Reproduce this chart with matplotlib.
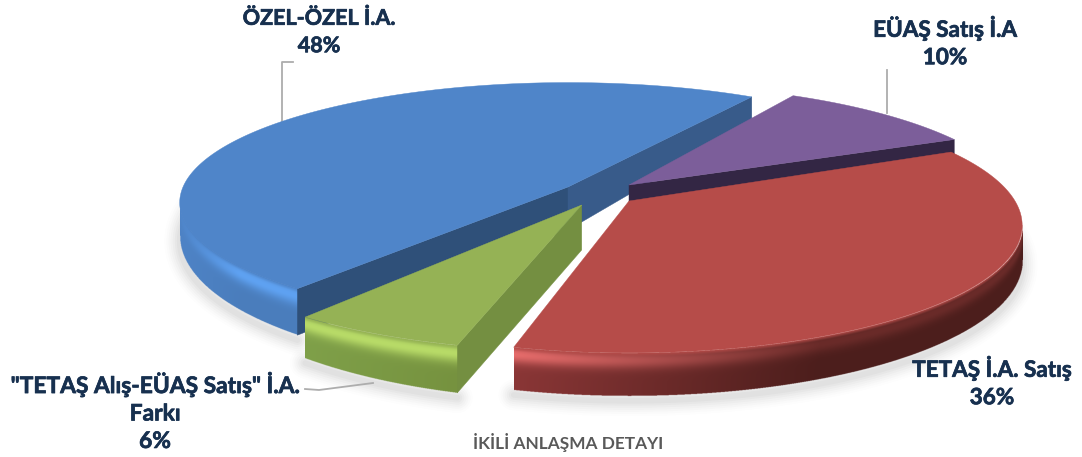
import numpy as np
import matplotlib
matplotlib.use("Agg")
import matplotlib.pyplot as plt
import matplotlib.patheffects as pe
from matplotlib.colors import to_rgb
from matplotlib.patches import Polygon

categories = ['EÜAŞ Satış İ.A', 'TETAŞ İ.A. Satış', '"TETAŞ Alış-EÜAŞ Satış" İ.A.\nFarkı', 'ÖZEL-ÖZEL İ.A.']
values = [10, 36, 6, 48]
title = 'İKİLİ ANLAŞMA DETAYI'

# exploded-slice geometry and styling (pixels)
geom = {
    0: dict(c=(629, 185), a=385, b=121, k=.20, rot=0, h0=33, h1=9, hap=45, sides=(-1,)),
    1: dict(c=(629, 201), a=386, b=123, k=.19, rot=1.5, h0=33, h1=10, hap=45, sides=()),
    2: dict(c=(581.7, 205), a=390, b=117, k=.20, rot=.7, h0=8, h1=41, hap=45, sides=(0,)),
    3: dict(c=(568, 187), a=385, b=118, k=.13, rot=-2, h0=31, h1=20, hap=43, sides=(0, -1)),
}
style = {
    0: dict(top='#7C5E9A', wall=('#332644', '#332644'), hl=('#332644', '#332644'), side='#332644', span=1),
    1: dict(top='#B64C49', wall=('#8A3636', '#4C1E1C'), hl=('#E66C6B', '#6A2B29'), side='#4A1D1B', span=.6),
    2: dict(top='#95B255', wall=('#7FA049', '#76923F'), hl=('#B8DB68', '#B8DB68'), side='#748F41', span=1),
    3: dict(top='#4F85C9', wall=('#4E83C6', '#4A7DBC'), hl=('#4F85C9', '#5FA2F2'), side=None, span=.55),
}
blue_sides = {0: '#2F5079', -1: '#385B8A'}
draw_order = [3, 0, 1, 2]
label_pos = {0: (945, 42), 1: (992, 382), 2: (155, 412), 3: (319, 32)}
label_size = {0: 16.2, 1: 16.2, 2: 16.4, 3: 15.5}
leaders = {
    0: ([887, 887], [70, 113]),
    1: ([], []),
    2: ([305, 319, 373], [389, 390, 383]),
    3: ([293, 282, 282], [62, 62, 121]),
}
TEXT = '#17304F'

plt.rcParams['font.family'] = ['Lato', 'DejaVu Sans']
fig = plt.figure(figsize=(10.82, 4.57), dpi=100)
ax = fig.add_axes([0, 0, 1, 1])
ax.axis('off')


def project(g, th):
    th = np.radians(th)
    u, v = np.cos(th), np.sin(th)
    s = 1 / (1 + g['k'] * v)
    return g['c'][0] + g['a'] * u * s, g['c'][1] - g['b'] * v * s, v


def rgb(c):
    return np.array(to_rgb(c))


# slice angles from the data, clockwise from the start angle
start = 60.0
edges = start - np.cumsum([0] + [v * 3.6 for v in values])
arcs = {}
for i, g in geom.items():
    th = np.linspace(edges[i] + g['rot'], edges[i + 1] + g['rot'], 400)
    x, y, v = project(g, th)
    arcs[i] = (x, y, v, np.maximum(g['h0'] - g['h1'] * v, 24))

# soft drop shadow
for lw, al in zip(np.arange(22, 1, -3), [.012, .015, .02, .025, .03, .035, .04, .04]):
    for i in (3, 1, 2):
        x, y, v, h = arcs[i]
        keep = v < .25
        ax.plot(x[keep], (y + h)[keep] + 5, color='#555555', lw=lw, alpha=al,
                solid_capstyle='round', zorder=1)


def draw_rim(i, z):
    """Curved outer wall, shaded per pixel along and down the rim."""
    st = style[i]
    x, y, v, h = arcs[i]
    front = v < .1
    xs, ys, hs = x[front], y[front], h[front]
    # keep the part that runs monotonically in x
    if i == 3:
        cut = np.argmin(xs)
        xs, ys, hs = xs[:cut + 1], ys[:cut + 1], hs[:cut + 1]
    if i == 1:
        cut = np.argmax(xs)
        xs, ys, hs = xs[cut:], ys[cut:], hs[cut:]
    o = np.argsort(xs)
    xs, ys, hs = xs[o], ys[o], hs[o]
    x0, x1 = xs[0], xs[-1]
    y0, y1 = ys.min() - 2, (ys + hs).max() + 2
    sup = 3
    X = np.linspace(x0, x1, int((x1 - x0) * sup) + 1)
    Y = np.linspace(y0, y1, int((y1 - y0) * sup) + 1)
    yt = np.interp(X, xs, ys)
    ht = np.interp(X, xs, hs)
    t = (Y[:, None] - yt[None, :]) / ht[None, :]
    f = np.clip((X - x0) / max(x1 - x0, 1) / st['span'], 0, 1)[None, :, None]
    wall = rgb(st['wall'][0]) * (1 - f) + rgb(st['wall'][1]) * f
    if i == 3:
        fh = np.clip((X - x0) / 60, 0, 1)[None, :, None]
    else:
        fh = f
    hl = rgb(st['hl'][0]) * (1 - fh) + rgb(st['hl'][1]) * fh
    tc = np.clip(t, 0, 1)[..., None]
    w = np.exp(-((tc - .17) / .2) ** 2)
    col = wall * (1 - w) + hl * w
    m = np.clip(tc / .09, 0, 1)
    col = rgb(st['top']) * (1 - m) + col * m
    alpha = ((t >= 0) & (t <= 1)).astype(float)[..., None]
    ax.imshow(np.concatenate([col, alpha], axis=2), extent=(x0, x1, y1, y0), aspect='auto',
              interpolation='hanning', zorder=z)


for n, i in enumerate(draw_order):
    g, st = geom[i], style[i]
    x, y, v, h = arcs[i]
    cx, cy = g['c']
    z = 10 + n * 5
    if i != 0:
        draw_rim(i, z)
    # straight cut walls
    for end in g['sides']:
        col = blue_sides[end] if i == 3 else st['side']
        end_h = 26 if (i == 3 and end == -1) else (17 if i == 0 else h[end])
        ax.add_patch(Polygon([(cx, cy), (x[end], y[end]), (x[end], y[end] + end_h),
                              (cx, cy + (g['hap'] if i != 0 else 17))],
                             closed=True, fc=col, ec=col, lw=.3, zorder=z + 1))
    # top face
    ax.add_patch(Polygon(np.column_stack([np.r_[cx, x], np.r_[cy, y]]), closed=True,
                         fc=st['top'], ec=st['top'], lw=.3, zorder=z + 2))

ax.set_xlim(0, 1082)
ax.set_ylim(457, 0)
ax.set_aspect('auto')

stroke = [pe.withStroke(linewidth=.5, foreground=TEXT)]
for i, cat in enumerate(categories):
    xs, ys = leaders[i]
    if xs:
        ax.plot(xs, ys, color='#ADADAD', lw=1.3, zorder=5)
    px, py = label_pos[i]
    ax.text(px, py, f'{cat}\n{values[i]}%', ha='center', va='center', fontsize=label_size[i],
            fontweight='bold', color=TEXT, linespacing=1.38, zorder=60, path_effects=stroke)

ax.text(568, 443, title, ha='center', va='center', fontsize=12.4, fontweight='bold',
        color='#595959', zorder=60)

fig.savefig('out.png', dpi=100, facecolor='white')
